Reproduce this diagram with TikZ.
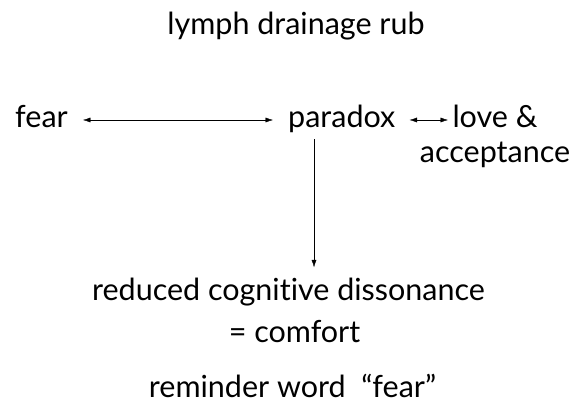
\documentclass[tikz,border=0pt]{standalone}
\usepackage{fontspec}
\setmainfont{Lato}[Ligatures=NoCommon]
\usetikzlibrary{positioning,arrows.meta}
\tikzset{every word/.style={font=\fontsize{30.5}{35}\selectfont, inner sep=0pt}}
\tikzset{word/.style={every word, anchor=base}}

\begin{document}
\begin{tikzpicture}[x=1pt,y=1pt,>={Latex[length=7.5pt,width=5pt]}]
  \useasboundingbox (0,0) rectangle (573,406);
  % Title on top, the chain of ideas below it
  \node[word] (rub) at (296,371) {lymph drainage rub};
  \node[word, anchor=base west] (fear) at (15,278) {fear};
  \node[word, anchor=base west] (paradox) at (288,278) {paradox};
  % base of a two-line node is its last line
  \node[word, align=center] (love) at (495,243) {love \&\\acceptance};

  % Outcome, read off under the paradox
  \node[word] (reduced) at (288.5,105) {reduced cognitive dissonance};
  \node[word] (comfort) at (294.5,63) {= comfort};
  \node[word] (reminder) at (292.5,8) {reminder word\ \ ``fear''};

  \coordinate (drop) at (314,0);
  \path ([xshift=15,yshift=8]fear.base east) edge [<->] ([xshift=-15,yshift=8]paradox.base west);
  \path ([xshift=14,yshift=8]paradox.base east) edge [<->] ([xshift=-47,yshift=43]love.base);
  \path ([yshift=-6]paradox.south -| drop) edge [->] ([yshift=11]reduced.north -| drop);
\end{tikzpicture}
\end{document}
